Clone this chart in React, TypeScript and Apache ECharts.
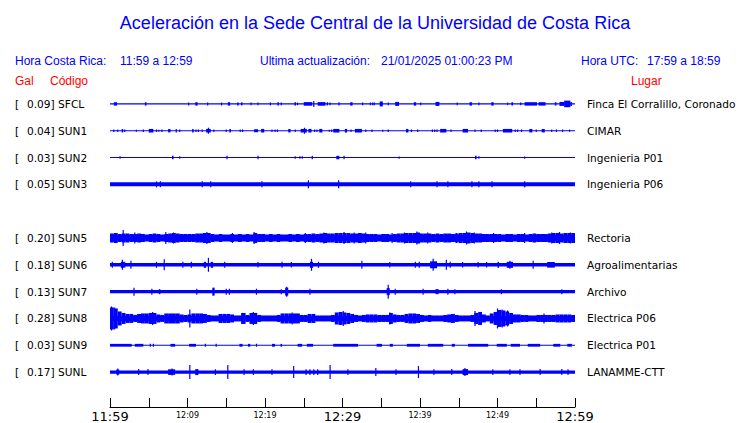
import React, { useEffect, useRef } from "react";
import * as echarts from "echarts";

// ---------- data ----------
const stations = ["SFCL", "SUN1", "SUN2", "SUN3", "", "SUN5", "SUN6", "SUN7", "SUN8", "SUN9", "SUNL"];
const galValues = ["0.09", "0.04", "0.03", "0.05", "", "0.20", "0.18", "0.13", "0.28", "0.03", "0.17"];
const places = [
  "Finca El Corralillo, Coronado", "CIMAR", "Ingenieria P01", "Ingenieria P06", "",
  "Rectoria", "Agroalimentarias", "Archivo", "Electrica P06", "Electrica P01", "LANAMME-CTT",
];
// x ticks every 5 minutes, labels every 10 minutes (minutes after 11:59)
const tickLabels = ["11:59", "12:09", "12:19", "12:29", "12:39", "12:49", "12:59"];
const bigLabels = ["11:59", "12:29", "12:59"];

const titleText = "Aceleración en la Sede Central de la Universidad de Costa Rica";
const localLabel = "Hora Costa Rica:";
const localRange = "11:59 a 12:59";
const updateLabel = "Ultima actualización:";
const updateValue = "21/01/2025 01:00:23 PM";
const utcLabel = "Hora UTC:";
const utcRange = "17:59 a 18:59";

// envelope segments per trace: [startMinute, endMinute, halfAmplitude]
const baseSFCL = 0.6;
const envSFCL = [[0.5,0.9,1.7],[4.5,4.7,1.7],[10.1,10.2,1.5],[11,11.3,1.7],[12.6,12.6,1.5],[14.4,14.4,1.5],[15.2,15.5,1.7],[16.4,16.6,1.5],[16.9,17.1,1.5],[18.2,18.2,1.3],[19.1,19.1,1.3],[20.7,20.7,1.5],[21.6,21.8,1.7],[22.1,22.1,1.3],[23.8,24,1.7],[24.2,24.2,1.3],[25,26.1,1.8],[26.3,26.3,3],[26.8,27.8,1.8],[28,28.1,1.7],[28.4,28.4,1.3],[29.5,29.6,1.7],[31,31.3,1.7],[32.6,32.6,1.3],[33.6,33.6,1.3],[33.9,33.9,1.3],[34.1,34.1,1.3],[34.8,35.2,2.5],[35.9,35.9,1.3],[36.8,37.3,2],[39.2,39.5,1.7],[40.1,40.1,1.3],[42,42.5,2],[44.8,44.8,1.3],[46.4,46.7,1.7],[47.6,47.6,1.3],[49.2,49.5,1.7],[51.3,51.3,1.3],[51.8,52,1.7],[53,53,1.3],[53.5,55.1,1.7],[55.3,56.2,1.7],[57.4,57.6,1.7],[58,58.6,2],[58.6,59.4,3.3],[59.4,59.6,2]];
const baseSUN1 = 0.6;
const envSUN1 = [[0.5,0.5,1.3],[1,1,1.3],[1.5,1.7,1.7],[1.9,1.9,1.3],[3.4,3.4,1.1],[4.3,4.3,1.3],[5,5.6,1.8],[6,6,1.3],[6.3,6.3,1.1],[6.7,6.7,1.3],[7.5,7.8,1.7],[8.5,8.6,1.7],[9,9,1.3],[10.6,10.8,1.7],[11.1,11.1,1.3],[11.4,11.4,1.3],[11.9,11.9,1.3],[12.4,13,1.8],[12.7,12.7,3],[13.4,13.4,1.3],[15,15,1.3],[15.4,15.6,1.7],[16.8,16.8,1.3],[17.1,17.1,1.3],[18.6,19.1,1.5],[19.5,19.9,1.8],[20.9,20.9,1.3],[21.3,21.3,1.3],[21.6,21.6,1.3],[23,23.3,1.7],[23.9,23.9,1.3],[24.6,25.4,1.8],[25.1,25.1,3],[25.6,26,1.8],[26.4,26.4,1.3],[26.7,26.7,1.3],[27,27.4,1.8],[28.3,28.3,1.1],[28.6,28.6,1.3],[28.8,29.6,1.8],[30.3,30.6,1.8],[31.1,31.1,1.3],[31.6,32.5,1.8],[33,33,1.3],[33.8,33.8,1.3],[35.2,35.2,1.1],[35.9,35.9,1.3],[38.2,38.5,1.8],[38.9,38.9,1.3],[39.7,39.7,1.3],[41.6,41.6,1.3],[41.9,41.9,1.3],[42.2,42.2,1.3],[42.6,43.4,1.8],[44,44,1.3],[45.5,46.2,1.8],[47.1,47.1,1.3],[47.9,47.9,1.3],[49.7,49.7,1.3],[50,50,1.3],[50.7,51.9,1.8],[52.3,52.3,1.3],[52.6,52.6,1.3],[53.1,53.1,1.3],[54.1,54.5,1.7],[55,55,1.3],[55.7,56.1,1.7],[57,57,1.3],[57.6,57.6,1.3],[58.4,58.4,1.3],[59.3,59.3,1.1]];
const baseSUN2 = 0.5;
const envSUN2 = [[1.3,1.3,1.3],[8,8.2,1.7],[9,9,1.3],[15.1,15.1,1.7],[19.1,19.1,1.7],[23.9,23.9,1.3],[24.5,24.5,1.3],[24.8,24.8,1.3],[26.1,26.1,1.7],[29.2,29.6,1.7],[30.2,30.2,1.7],[37.3,37.3,1.1],[47.1,47.3,1.7],[47.6,47.6,1.3],[53.5,53.5,1.1]];
const baseSUN3 = 2;
const envSUN3 = [[6,6,3],[6.5,6.5,3],[11.9,11.9,3],[13,13,3],[19.6,19.6,3],[25.6,25.6,4],[29.5,29.5,4],[38.8,38.8,3],[42.2,42.2,3],[43.6,43.6,3],[46.7,46.7,3],[47.6,47.6,3],[49.3,49.3,3],[53.4,53.6,3]];

// SUN5 and SUN8: half-amplitude per half-minute bin, plus isolated peaks [minute, half]
const baseSUN5 = 3;
const binsSUN5 = [
  4.5, 5, 4, 4.5, 4.5, 4, 4, 4.5, 4, 3.5,
  4, 4.5, 4, 3.5, 4, 4.5, 5, 4.5, 4, 4,
  4, 4, 4.5, 4.5, 5, 5, 4, 3.5, 4, 3.5,
  3.5, 4, 3.5, 4, 3.5, 4, 3.5, 5, 4, 4,
  3.5, 4, 3.5, 4, 3.5, 3.5, 4, 3.5, 4, 3.5,
  4, 4, 4.5, 4, 4.5, 5, 4.5, 4.5, 5, 5,
  5, 5, 4.5, 4.5, 5, 4.5, 4, 4, 4, 3.5,
  4, 4, 3.5, 4, 4.5, 4.5, 5, 5, 5, 5.5,
  4.5, 4.5, 4.5, 4, 4.5, 4, 4.5, 4.5, 4, 4.5,
  5, 5, 5.5, 5, 4.5, 4.5, 4, 4, 4, 4,
  4, 3.5, 4, 4, 3.5, 4, 4, 3.5, 4, 4.5,
  4, 4, 4, 4.5, 5, 5, 4.5, 5, 5, 5,
];
const peaksSUN5 = [[1.7, 8], [3.2, 5.5], [7.2, 6], [8.2, 5.5], [12.5, 6], [15.8, 5], [18.6, 6], [25.2, 5], [27.6, 5.5], [30.2, 6], [31.5, 5.5], [33, 5.5], [36.4, 5], [38, 5.5], [39.6, 6.5], [41, 5.5], [44.7, 5], [46, 6.5], [47, 5.5], [49.5, 5], [53.5, 5], [57, 5.5], [58, 6], [59.4, 5.5]];
const baseSUN8 = 2.5;
const binsSUN8 = [
  11, 10, 7, 5.5, 4.5, 4.5, 3.5, 4.5, 5, 5,
  5.5, 5.5, 4, 3.5, 5, 5, 5, 5, 4, 3.5,
  4, 5, 5, 5, 4.5, 3.5, 3, 3, 4.5, 4.5,
  4.5, 4, 3, 3, 5.5, 3.5, 5.5, 5.5, 3.5, 3,
  3, 3, 3, 3.5, 5, 5, 5, 5, 5, 3.5,
  3.5, 4.5, 4.5, 3, 3, 3, 3, 3.5, 6, 6.5,
  6, 5.5, 4.5, 3.5, 3, 3.5, 4, 4, 4, 3.5,
  3.5, 3.5, 5.5, 4, 3.5, 3.5, 4.5, 5, 5, 4.5,
  3.5, 3, 3.5, 3, 3, 3, 3.5, 4, 4.5, 3.5,
  3, 3, 3, 3.5, 5.5, 6.5, 4, 3, 5, 6.5,
  8.5, 8, 7, 5.5, 4, 4, 3.5, 3.5, 3, 3,
  3.5, 3.5, 3.5, 3.5, 3.5, 4, 4, 4, 4, 3.5,
];
const peaksSUN8 = [[0.2, 12], [0.6, 11], [5.5, 6.5], [10.3, 9], [17, 5.5], [18.5, 6.5], [23.5, 6], [30.1, 7.5], [36.1, 6], [47.1, 7.5], [50, 10], [50.6, 9], [51.3, 8], [56, 5]];

const baseSUN6 = 1.8;
const envSUN6 = [[0.3,0.3,3],[1.4,1.8,3],[1.6,1.6,5],[1.9,1.9,3],[2.7,2.7,4],[6,6,3],[7,7,5.5],[9.4,9.4,3],[10.5,10.5,3],[12.1,12.4,3],[12.7,12.7,7],[13,13.3,3],[14.8,14.8,3],[19.1,19.1,2.8],[22.2,22.2,3],[23.4,23.4,2.8],[25.8,26.2,3],[26,26,6],[26.9,26.9,3],[32.5,32.5,4],[36.1,36.1,2.8],[39.4,39.4,3],[39.9,39.9,3],[41.3,42.2,3.5],[41.7,41.7,6],[43.4,43.4,5],[43.9,43.9,3],[45.5,45.5,2.8],[47.5,47.5,2.8],[48.6,48.6,2.8],[50,50.2,3],[51.2,52,3],[51.6,51.6,4],[54.6,54.6,4],[56.4,57.4,2.8]];
const baseSUN7 = 1.7;
const envSUN7 = [[3.1,3.1,4],[5.4,5.4,3],[6.3,6.5,2.5],[11.2,11.2,3],[13.2,13.5,4],[15,15,3],[15.4,15.4,3],[18.9,18.9,3],[22.1,22.1,2.5],[22.6,23,4],[22.8,22.8,5],[25.8,25.8,3],[35.9,35.9,7],[35.7,36.1,3.5],[36.8,36.8,3],[40.4,40.4,3],[42,42.4,2.5],[43.6,43.6,3],[44.5,44.5,2.5],[50.5,50.5,2.5],[58.3,58.3,2.5]];
const baseSUN9 = 0.5;
const envSUN9 = [[0,2.8,1.4],[3.2,4.3,1.4],[5.2,5.2,1.4],[5.6,5.6,1.4],[7.8,8.4,1.4],[10.2,11.1,1.4],[12.3,12.3,1.4],[13.7,13.7,1.4],[16.7,17.1,1.4],[17.8,18.1,1.4],[18.9,18.9,1.4],[20.9,21.3,1.4],[22,22.2,1.4],[24.2,24.8,1.4],[25.4,26.2,1.4],[28.8,32,1.4],[34.4,35.1,1.4],[36.1,36.5,1.4],[38.3,40,1.4],[41,43,1.4],[44.1,44.5,1.4],[46.2,48.8,1.4],[49.9,51.2,1.4],[51.7,52.9,1.4],[53.9,55.5,1.4],[57.2,58.1,1.4],[59,59.6,1.4]];
const baseSUNL = 1.7;
const envSUNL = [[1,1,3.5],[0.8,1.2,2.5],[3.7,3.7,3],[4.9,4.9,3],[7.5,8.4,2.8],[8,8,3.5],[10.3,10.3,7],[11,11.4,3],[13.6,13.6,2.8],[15.2,15.2,7],[17.3,17.3,2.8],[18.5,18.5,2.8],[20.9,20.9,2.8],[23.7,23.7,6],[25.3,25.3,2.8],[25.8,25.8,2.8],[26.3,26.3,2.8],[26.8,26.8,2.8],[28.4,28.4,7],[30.7,30.7,2.8],[34.3,34.3,4],[36.9,36.9,2.8],[39.8,39.8,6],[41.8,41.8,2.8],[44.1,44.1,3],[45.5,46.2,3],[45.8,45.8,4],[49.4,49.4,2.8],[51.6,51.6,2.8],[52.9,52.9,2.8],[55.5,55.5,3],[58.3,58.3,3],[59.1,59.1,2.8]];

const DURATION = 60;
const BIN = 0.5;

const binsToSegments = (bins: number[], peaks: number[][]) => [
  ...bins.map((h, i) => [i * BIN, (i + 1) * BIN, h]),
  ...peaks.map(([m, h]) => [m, m, h]),
];

const traces: { row: number; base: number; env: number[][] }[] = [
  { row: 0, base: baseSFCL, env: envSFCL },
  { row: 1, base: baseSUN1, env: envSUN1 },
  { row: 2, base: baseSUN2, env: envSUN2 },
  { row: 3, base: baseSUN3, env: envSUN3 },
  { row: 5, base: baseSUN5, env: binsToSegments(binsSUN5, peaksSUN5) },
  { row: 6, base: baseSUN6, env: envSUN6 },
  { row: 7, base: baseSUN7, env: envSUN7 },
  { row: 8, base: baseSUN8, env: binsToSegments(binsSUN8, peaksSUN8) },
  { row: 9, base: baseSUN9, env: envSUN9 },
  { row: 10, base: baseSUNL, env: envSUNL },
];

const BLUE = "#0000ff";
const RED = "#ff0000";
const HEAD_FONT = "'Liberation Sans', Arial, sans-serif";
const BODY_FONT = "'DejaVu Sans', sans-serif";
const LABEL_SIZE = 10.6;

export default function App() {
  const ref = useRef<HTMLDivElement>(null);
  useEffect(() => {
    if (!ref.current) return;
    const chart = echarts.init(ref.current, undefined, { renderer: "svg" });

    const series = traces.map((t) => ({
      type: "custom",
      xAxisIndex: 0,
      yAxisIndex: 0,
      clip: false,
      silent: true,
      encode: { x: [0, 1] },
      data: [[0, DURATION, t.base], ...t.env],
      renderItem: (params: any, api: any) => {
        const a = api.value(0);
        const b = api.value(1);
        const h = api.value(2);
        const p1 = api.coord([a, t.row]);
        const p2 = api.coord([b, t.row]);
        let w = p2[0] - p1[0];
        let x = p1[0];
        if (w < 1.2) {
          x = x - (1.2 - w) / 2;
          w = 1.2;
        }
        return {
          type: "rect",
          shape: { x, y: p1[1] - h, width: w, height: 2 * h },
          style: { fill: BLUE },
        };
      },
    }));

    const headText = (x: number, y: number, text: string, fill: string, size = 12) => ({
      type: "text",
      x,
      y,
      style: { text, fill, font: `${size}px ${HEAD_FONT}`, textVerticalAlign: "middle" },
    });

    chart.setOption({
      animation: false,
      backgroundColor: "#ffffff",
      grid: { left: 110, width: 465, top: 90.5, height: 297 },
      xAxis: {
        type: "value",
        min: 0,
        max: DURATION,
        interval: 5,
        offset: 21.5,
        axisLine: { show: true, lineStyle: { color: "#000", width: 1 } },
        axisTick: { show: true, inside: true, length: 9, lineStyle: { color: "#000" } },
        splitLine: { show: false },
        axisLabel: {
          margin: 3,
          color: "#000",
          fontFamily: BODY_FONT,
          formatter: (v: number) => {
            if (v % 10 !== 0) return "";
            const lab = tickLabels[v / 10];
            return bigLabels.includes(lab) ? `{big|${lab}}` : `{small|${lab}}`;
          },
          rich: {
            big: { fontSize: 13, fontFamily: BODY_FONT, color: "#000" },
            small: { fontSize: 8, fontFamily: BODY_FONT, color: "#000", padding: [1, 0, 0, 0] },
          },
        },
      },
      yAxis: [
        {
          type: "category",
          inverse: true,
          data: stations,
          axisLine: { show: false },
          axisTick: { show: false },
          splitLine: { show: false },
          axisLabel: {
            align: "left",
            margin: 95,
            color: "#000",
            fontSize: LABEL_SIZE,
            fontFamily: BODY_FONT,
            formatter: (_v: string, i: number) =>
              galValues[i] ? `{b|[}{v|${galValues[i]}] ${stations[i]}}` : "",
            rich: {
              b: { width: 12, fontSize: LABEL_SIZE, fontFamily: BODY_FONT, color: "#000" },
              v: { fontSize: LABEL_SIZE, fontFamily: BODY_FONT, color: "#000" },
            },
          },
        },
        {
          type: "category",
          inverse: true,
          position: "right",
          data: places,
          axisLine: { show: false },
          axisTick: { show: false },
          splitLine: { show: false },
          axisLabel: { margin: 12, color: "#000", fontSize: LABEL_SIZE, fontFamily: BODY_FONT },
        },
      ],
      series,
      graphic: [
        {
          type: "text",
          x: 375,
          y: 23,
          style: {
            text: titleText,
            fill: BLUE,
            font: `18px ${HEAD_FONT}`,
            textAlign: "center",
            textVerticalAlign: "middle",
          },
        },
        headText(15, 61, localLabel, BLUE),
        headText(120, 61, localRange, BLUE),
        headText(260, 61, updateLabel, BLUE),
        headText(381, 61, updateValue, BLUE),
        headText(581, 61, utcLabel, BLUE),
        headText(647, 61, utcRange, BLUE),
        headText(15, 81, "Gal", RED),
        headText(50, 81, "Código", RED),
        headText(631, 81, "Lugar", RED),
      ],
    });
    return () => chart.dispose();
  }, []);
  return (
    <div
      ref={ref}
      style={{ position: "absolute", left: 0, top: 0, width: 740, height: 423, background: "#fff" }}
    />
  );
}
